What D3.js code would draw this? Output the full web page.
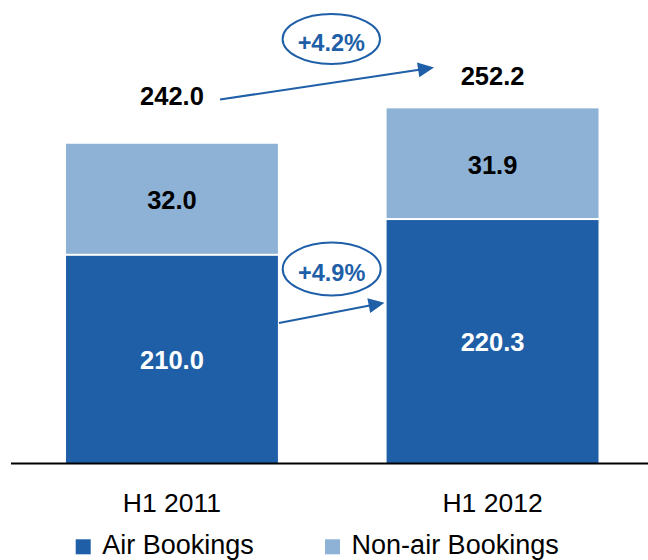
<!DOCTYPE html>
<html>
<head>
<meta charset="utf-8">
<script src="https://cdn.jsdelivr.net/npm/d3@7"></script>
<style>
  body { margin: 0; background: #fff; }
  svg { display: block; }
</style>
</head>
<body>
<svg id="chart" width="648" height="560"></svg>
<script>
// Bookings by half-year (stacked)
const periods = ["H1 2011", "H1 2012"];
const airBookings = [210.0, 220.3];
const nonAirBookings = [32.0, 31.9];
const seriesNames = ["Air Bookings", "Non-air Bookings"];

const font = "'Liberation Sans', Arial, Helvetica, sans-serif";
const colAir = "#1F5FA8";
const colNonAir = "#8DB2D6";
const colAccent = "#1F5FA8";

const svg = d3.select("#chart");
const baseY = 463;

// scales: value axis starts at 150 (truncated baseline)
const x = d3.scaleBand().domain(periods).range([66, 598.5]).paddingInner(0.339).paddingOuter(0);
const y = d3.scaleLinear().domain([150, 260]).range([baseY, 463 - 110 * 3.47]).clamp(true);

const rows = periods.map((p, i) => ({ period: p, air: airBookings[i], nonAir: nonAirBookings[i] }));
const keys = ["air", "nonAir"];
const stacked = d3.stack().keys(keys)(rows);
const fills = { air: colAir, nonAir: colNonAir };
const labelColors = { air: "#fff", nonAir: "#000" };

// stacked segments with a thin white seam between them
stacked.forEach((layer, li) => {
  const g = svg.append("g");
  g.selectAll("rect").data(layer).join("rect")
    .attr("x", d => x(d.data.period))
    .attr("width", x.bandwidth())
    .attr("y", d => y(d[1]) + (li === 0 ? 1 : 0))
    .attr("height", d => y(d[0]) - y(d[1]) - 1)
    .attr("fill", fills[layer.key]);
  g.selectAll("text").data(layer).join("text")
    .attr("x", d => x(d.data.period) + x.bandwidth() / 2)
    .attr("y", d => (y(d[0]) + y(d[1])) / 2 + 1)
    .attr("text-anchor", "middle")
    .attr("dominant-baseline", "central")
    .attr("font-family", font)
    .attr("font-weight", "bold")
    .attr("font-size", 25.5)
    .attr("fill", labelColors[layer.key])
    .text(d => d3.format(".1f")(d[1] - d[0]));
});

// totals above each stack
const totals = rows.map(r => r.air + r.nonAir);
const totalLift = [48, 32];
svg.append("g").selectAll("text").data(rows).join("text")
  .attr("x", d => x(d.period) + x.bandwidth() / 2)
  .attr("y", (d, i) => y(totals[i]) - totalLift[i])
  .attr("text-anchor", "middle")
  .attr("dominant-baseline", "central")
  .attr("font-family", font)
  .attr("font-weight", "bold")
  .attr("font-size", 25.5)
  .attr("fill", "#000")
  .text((d, i) => d3.format(".1f")(totals[i]));

// baseline and category labels
const axis = d3.axisBottom(x).tickSize(0).tickPadding(30);
const ax = svg.append("g").attr("transform", `translate(0,${baseY})`).call(axis);
ax.select(".domain").remove();
ax.selectAll("text")
  .attr("font-family", font)
  .attr("font-size", 26.5)
  .attr("fill", "#000");
svg.append("line")
  .attr("x1", 11).attr("x2", 648)
  .attr("y1", baseY + 0.5).attr("y2", baseY + 0.5)
  .attr("stroke", "#000").attr("stroke-width", 2);

// growth arrows with circled percentages
const pct = d3.format("+.1%");
const growth = [
  { text: pct(totals[1] / totals[0] - 1), from: [220, 99.5], to: [434, 67.5], cx: 331.3, cy: 39, rx: 48.7, ry: 25 },
  { text: pct(airBookings[1] / airBookings[0] - 1), from: [x(periods[0]) + x.bandwidth() + 1, 323], to: [384.5, 302.7], cx: 331.7, cy: 269, rx: 49, ry: 26.5 }
];
const headLen = 16, headHalf = 7.5;
growth.forEach(a => {
  const [x0, y0] = a.from, [x1, y1] = a.to;
  const ang = Math.atan2(y1 - y0, x1 - x0);
  const bx = x1 - headLen * Math.cos(ang), by = y1 - headLen * Math.sin(ang);
  svg.append("line")
    .attr("x1", x0).attr("y1", y0).attr("x2", bx + Math.cos(ang)).attr("y2", by + Math.sin(ang))
    .attr("stroke", colAccent).attr("stroke-width", 2);
  const px = -Math.sin(ang), py = Math.cos(ang);
  svg.append("path")
    .attr("d", `M${x1},${y1}L${bx + px * headHalf},${by + py * headHalf}L${bx - px * headHalf},${by - py * headHalf}Z`)
    .attr("fill", colAccent);
  svg.append("ellipse")
    .attr("cx", a.cx).attr("cy", a.cy).attr("rx", a.rx).attr("ry", a.ry)
    .attr("fill", "none").attr("stroke", colAccent).attr("stroke-width", 2);
  svg.append("text")
    .attr("x", a.cx).attr("y", a.cy + 3.5)
    .attr("text-anchor", "middle")
    .attr("dominant-baseline", "central")
    .attr("font-family", font)
    .attr("font-weight", "bold")
    .attr("font-size", 23.5)
    .attr("fill", colAccent)
    .text(a.text);
});

// legend
const legendX = [75.7, 325];
const legend = svg.append("g").selectAll("g").data(seriesNames).join("g")
  .attr("transform", (d, i) => `translate(${legendX[i]},539.3)`);
legend.append("rect")
  .attr("width", 15).attr("height", 15)
  .attr("fill", (d, i) => fills[keys[i]]);
legend.append("text")
  .attr("x", 26.6).attr("y", 14.7)
  .attr("font-family", font)
  .attr("font-size", 27)
  .attr("fill", "#000")
  .text(d => d);
</script>
</body>
</html>
